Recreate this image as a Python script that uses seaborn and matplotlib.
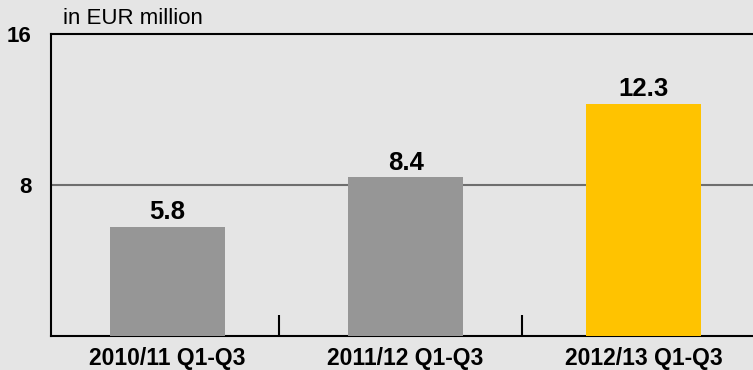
import matplotlib
matplotlib.use("Agg")
import matplotlib.pyplot as plt
import seaborn as sns
import pandas as pd

categories = ["2010/11 Q1-Q3", "2011/12 Q1-Q3", "2012/13 Q1-Q3"]
values = [5.8, 8.4, 12.3]
value_labels = ["5.8", "8.4", "12.3"]
bar_colors = ["#969696", "#969696", "#FFC300"]
y_ticks = [8, 16]
unit_label = "in EUR million"

sns.set_theme(style="white")
bg = "#E5E5E5"
plt.rcParams['font.family'] = ['Liberation Sans', 'DejaVu Sans']
plt.rcParams['text.color'] = 'black'
plt.rcParams['xtick.color'] = 'black'
plt.rcParams['ytick.color'] = 'black'
plt.rcParams['xtick.labelcolor'] = 'black'
plt.rcParams['ytick.labelcolor'] = 'black'

fig = plt.figure(figsize=(7.53, 3.70), dpi=100, facecolor=bg)
ax = fig.add_axes([51/753, 1-336/370, 1-51/753, (336-34)/370])
ax.set_facecolor(bg)

df = pd.DataFrame({"cat": categories, "val": values})
sns.barplot(data=df, x="cat", y="val", hue="cat", palette=bar_colors,
            width=0.48, legend=False, ax=ax, saturation=1, zorder=3,
            linewidth=0, edgecolor="none")

ax.set_ylim(0, 16)
ax.set_xlim(-0.49, 2.46)
ax.axhline(8, color="#6E6E6E", lw=1.5, zorder=1)

ax.spines["right"].set_visible(False)
for s in ["left", "bottom", "top"]:
    ax.spines[s].set_color("black")
    ax.spines[s].set_linewidth(1.5)

ax.set_yticks(y_ticks)
ax.set_yticklabels([str(t) for t in y_ticks], fontsize=16, fontweight="bold")
ax.tick_params(axis="y", length=0, pad=14)

ax.set_xticks(range(len(categories)))
ax.set_xticklabels(categories, fontsize=16.5, fontweight="bold")
ax.set_xticks([0.47, 1.49], minor=True)
ax.tick_params(axis="x", which="major", length=0, pad=8, bottom=True)
ax.tick_params(axis="x", which="minor", direction="in", length=15, width=1.5,
               color="black", bottom=True)
ax.set_xlabel("")
ax.set_ylabel("")

for i, (v, lab) in enumerate(zip(values, value_labels)):
    ax.text(i, v + 0.15, lab, ha="center", va="bottom", fontsize=18.5,
            fontweight="bold", color="black", zorder=4)

fig.text(63/753, 1-19/370, unit_label, ha="left", va="center", fontsize=16, color="black")

fig.savefig("out.png", dpi=100, facecolor=bg)
